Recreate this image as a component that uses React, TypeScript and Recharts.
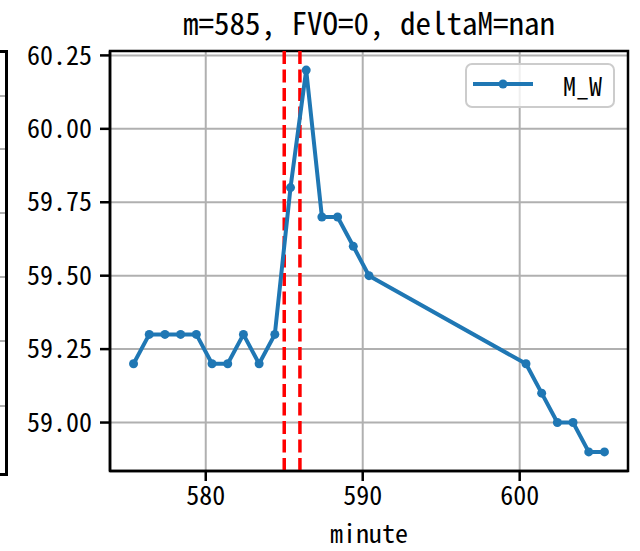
import React from "react";
import {
  LineChart,
  Line,
  XAxis,
  YAxis,
  CartesianGrid,
  ReferenceLine,
  ReferenceArea,
} from "recharts";

const minutes = [
  575.4, 576.4, 577.4, 578.4, 579.4, 580.4, 581.4, 582.4, 583.4, 584.4,
  585.4, 586.4, 587.4, 588.4, 589.4, 590.4,
  600.4, 601.4, 602.4, 603.4, 604.4, 605.4,
];
const mW = [
  59.2, 59.3, 59.3, 59.3, 59.3, 59.2, 59.2, 59.3, 59.2, 59.3,
  59.8, 60.2, 59.7, 59.7, 59.6, 59.5,
  59.2, 59.1, 59.0, 59.0, 58.9, 58.9,
];
const xTicks = [580, 590, 600];
const yTicks = [59.0, 59.25, 59.5, 59.75, 60.0, 60.25];
const markers = [585, 586];
const title = "m=585, FVO=0, deltaM=nan";
const seriesName = "M_W";
const xLabel = "minute";

// leftover edge of the neighbouring subplot
const leftGrid = [96, 149, 213, 277, 341, 406];

const FONT = '"Noto Sans Mono CJK SC", "Noto Sans CJK SC", "DejaVu Sans Mono", monospace';
const BLUE = "#1f77b4";

const data = minutes.map((m, i) => ({ minute: m, M_W: mW[i] }));

const Dot = (props: any) => {
  const { cx, cy } = props;
  if (cx == null || cy == null) return null;
  return <circle cx={cx} cy={cy} r={4.5} fill={BLUE} />;
};

export default function App() {
  return (
    <div
      style={{
        position: "absolute",
        left: 0,
        top: 0,
        width: 640,
        height: 551,
        background: "#fff",
        fontFamily: FONT,
      }}
    >
      {/* neighbour panel edge */}
      <div
        style={{
          position: "absolute",
          left: -4,
          top: 50,
          width: 9,
          height: 420,
          borderTop: "3px solid #000",
          borderRight: "3px solid #000",
          borderBottom: "3px solid #000",
        }}
      />
      {leftGrid.map((y) => (
        <div
          key={y}
          style={{
            position: "absolute",
            left: 0,
            top: y - 1,
            width: 5,
            height: 2,
            background: "#b0b0b0",
          }}
        />
      ))}

      <div
        style={{
          position: "absolute",
          left: 110,
          width: 518,
          top: 4,
          textAlign: "center",
          fontSize: 31,
          lineHeight: "36px",
          color: "#000",
        }}
      >
        {title}
      </div>

      <LineChart
        width={640}
        height={551}
        data={data}
        margin={{ top: 51, right: 12, bottom: 0, left: 0 }}
      >
        <CartesianGrid stroke="#b0b0b0" strokeWidth={2} />
        <XAxis
          dataKey="minute"
          type="number"
          domain={[573.9, 606.9]}
          ticks={xTicks}
          allowDataOverflow
          height={80}
          stroke="#000"
          strokeWidth={2.5}
          tickSize={10}
          tickMargin={6}
          tick={{ fill: "#000", fontSize: 26, fontFamily: FONT }}
          label={{
            value: xLabel,
            position: "insideBottom",
            offset: 8,
            fill: "#000",
            fontSize: 26,
            fontFamily: FONT,
          }}
        />
        <YAxis
          type="number"
          domain={[58.835, 60.265]}
          ticks={yTicks}
          allowDataOverflow
          width={110}
          stroke="#000"
          strokeWidth={2.5}
          tickSize={10}
          tickMargin={8}
          tickFormatter={(v: number) => v.toFixed(2)}
          tick={{ fill: "#000", fontSize: 26, fontFamily: FONT }}
        />
        <ReferenceArea
          x1={573.9}
          x2={606.9}
          y1={58.835}
          y2={60.265}
          fill="none"
          stroke="#000"
          strokeWidth={2.5}
          ifOverflow="visible"
        />
        {markers.map((m) => (
          <ReferenceLine
            key={m}
            x={m}
            stroke="#ff0000"
            strokeWidth={3.5}
            strokeDasharray="13 5.5"
          />
        ))}
        <Line
          type="linear"
          dataKey="M_W"
          name={seriesName}
          stroke={BLUE}
          strokeWidth={4}
          dot={<Dot />}
          activeDot={false}
          isAnimationActive={false}
        />
      </LineChart>

      {/* legend */}
      <div
        style={{
          position: "absolute",
          left: 465,
          top: 63,
          width: 146,
          height: 41,
          border: "2px solid #cccccc",
          borderRadius: 7,
          background: "rgba(255,255,255,0.8)",
        }}
      >
        <svg
          width={60}
          height={12}
          style={{ position: "absolute", left: 6, top: 13 }}
        >
          <line x1={0} y1={6} x2={60} y2={6} stroke={BLUE} strokeWidth={4} />
          <circle cx={30} cy={6} r={4.5} fill={BLUE} />
        </svg>
        <div
          style={{
            position: "absolute",
            left: 96,
            top: 2,
            fontSize: 26,
            lineHeight: "36px",
            color: "#000",
          }}
        >
          {seriesName}
        </div>
      </div>
    </div>
  );
}
